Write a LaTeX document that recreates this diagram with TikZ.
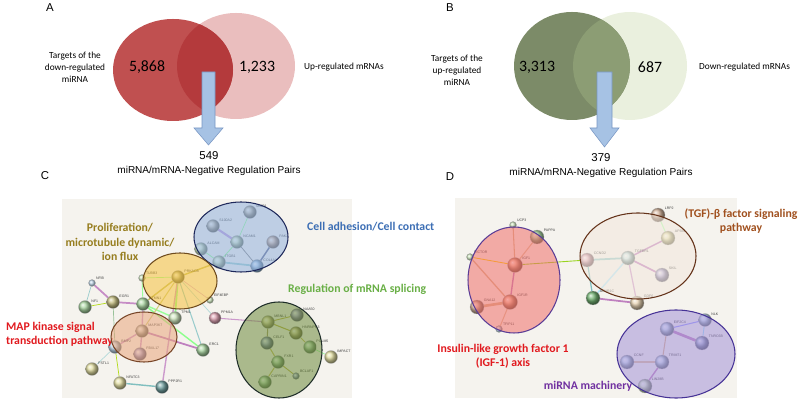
\documentclass[tikz,border=0pt]{standalone}
\usepackage{fontspec}
\setmainfont{Carlito}
\newfontfamily\arialfont{Liberation Sans}

\pgfdeclarelayer{bg}
\pgfdeclarelayer{edges}
\pgfdeclarelayer{front}
\pgfsetlayers{bg,edges,main,front}

\definecolor{vennred}{RGB}{192,80,80}
\definecolor{vennpink}{RGB}{234,190,190}
\definecolor{vennredmid}{RGB}{180,58,60}
\definecolor{venngreen}{RGB}{124,139,104}
\definecolor{vennlight}{RGB}{234,240,222}
\definecolor{venngreenmid}{RGB}{140,157,116}
\definecolor{arrowblue}{RGB}{166,194,228}
\definecolor{arrowedge}{RGB}{120,150,195}
\definecolor{panelbg}{RGB}{245,243,238}
\definecolor{olivetxt}{RGB}{150,125,30}
\definecolor{bluetxt}{RGB}{60,110,180}
\definecolor{greentxt}{RGB}{105,175,70}
\definecolor{redtxt}{RGB}{225,25,30}
\definecolor{browntxt}{RGB}{160,80,30}
\definecolor{purpletxt}{RGB}{112,48,160}
% ball colours
\definecolor{bOlive}{RGB}{184,176,100}
\definecolor{bGreen}{RGB}{150,205,140}
\definecolor{bLtGreen}{RGB}{195,225,175}
\definecolor{bBlue}{RGB}{130,180,225}
\definecolor{bLtBlue}{RGB}{175,205,230}
\definecolor{bPurple}{RGB}{150,140,205}
\definecolor{bPink}{RGB}{215,140,160}
\definecolor{bYellow}{RGB}{220,215,140}
\definecolor{bTeal}{RGB}{80,140,140}
\definecolor{bGrey}{RGB}{175,170,150}
\definecolor{bOrange}{RGB}{230,140,100}
\definecolor{bTan}{RGB}{225,200,160}
\definecolor{bCyan}{RGB}{180,225,225}
\definecolor{bDkGreen}{RGB}{80,160,80}
\definecolor{bBlueGrey}{RGB}{130,145,195}
\definecolor{bBrown}{RGB}{200,160,130}
% cluster colours
\definecolor{cBlue}{RGB}{146,177,221}
\definecolor{cBlueLine}{RGB}{30,40,90}
\definecolor{cYellow}{RGB}{246,193,60}
\definecolor{cYellowLine}{RGB}{110,75,30}
\definecolor{cPeach}{RGB}{233,166,124}
\definecolor{cPeachLine}{RGB}{120,70,40}
\definecolor{cGreen}{RGB}{109,138,60}
\definecolor{cGreenLine}{RGB}{30,45,40}
\definecolor{cPink}{RGB}{240,111,106}
\definecolor{cPinkLine}{RGB}{90,60,150}
\definecolor{cTan}{RGB}{242,231,220}
\definecolor{cTanLine}{RGB}{100,50,25}
\definecolor{cPurple}{RGB}{164,147,215}
\definecolor{cPurpleLine}{RGB}{70,50,150}

\tikzset{
  panel/.style={font=\arialfont\fontsize{6.5}{7.8}\selectfont},
  count/.style={font=\fontsize{9}{10}\selectfont},
  side/.style={font=\fontsize{5.3}{6.8}\selectfont, align=center},
  pairs/.style={font=\arialfont\fontsize{5.7}{6.8}\selectfont},
  pairnum/.style={font=\arialfont\fontsize{6.5}{7.8}\selectfont},
  group/.style={font=\bfseries\fontsize{6.7}{8.2}\selectfont, align=center},
  gball/.style={circle, inner sep=0pt, draw=black!30, line width=0.15pt, shading=ball, ball color=#1!80!white},
  genelbl/.style={font=\arialfont\fontsize{2}{2.4}\selectfont, inner sep=0.4pt, text=black!75},
  lnk/.style={draw=#1, line cap=round},
  blob/.style={draw=#1, line width=0.6pt, fill opacity=0.55}
}

\begin{document}
\begin{tikzpicture}[x=0.02cm, y=-0.02cm]
\useasboundingbox (0,0) rectangle (800,401);

% Venn of panel A
\fill [vennpink] (236,66) ellipse [x radius=59, y radius=53];
\fill [vennred] (173,70) ellipse [x radius=60, y radius=51];
\begin{scope}
\clip (173,70) ellipse [x radius=60, y radius=51];
\fill [vennredmid] (236,66) ellipse [x radius=59, y radius=53];
\end{scope}

% Venn of panel B
\fill [vennlight] (630,66) ellipse [x radius=57, y radius=54];
\fill [venngreen] (572,66) ellipse [x radius=58, y radius=54];
\begin{scope}
\clip (572,66) ellipse [x radius=58, y radius=54];
\fill [venngreenmid] (630,66) ellipse [x radius=57, y radius=54];
\end{scope}

% Block arrows
\filldraw [fill=arrowblue, draw=arrowedge, line width=0.3pt]
  (202,72) -- (215,72) -- (215,128) -- (223,128) -- (208.5,145) -- (194,128) -- (202,128) -- cycle;
\filldraw [fill=arrowblue, draw=arrowedge, line width=0.3pt]
  (597,72) -- (612,72) -- (612,128) -- (619,128) -- (604.5,147) -- (590,128) -- (597,128) -- cycle;

% Top texts
\node [panel] (labA) at (50,8) {A};
\node [count] (numA1) at (147,67) {5,868};
\node [count] (numA2) at (257,67) {1,233};
\node [side] (setA1) at (75,67) {Targets of the\\down-regulated\\miRNA};
\node [side, anchor=west] (setA2) at (298,67) {Up-regulated mRNAs};
\node [pairnum] (sumA) at (209,156) {549};
\node [pairs] (pairsA) at (209,171) {miRNA/mRNA-Negative Regulation Pairs};

\node [panel] (labB) at (450,8) {B};
\node [count] (numB1) at (537,67) {3,313};
\node [count] (numB2) at (650,67) {687};
\node [side] (setB1) at (457,70) {Targets of the\\up-regulated\\miRNA};
\node [side, anchor=west] (setB2) at (693,67) {Down-regulated mRNAs};
\node [pairnum] (sumB) at (601,158) {379};
\node [pairs] (pairsB) at (601,173) {miRNA/mRNA-Negative Regulation Pairs};

\node [panel] (labC) at (45,176) {C};
\node [panel] (labD) at (450,177) {D};

% Network backgrounds
\begin{pgfonlayer}{bg}
\fill [panelbg] (62,199) rectangle (352,398);
\fill [panelbg] (455,198) rectangle (737,398);
\end{pgfonlayer}

% Genes of panel C
\foreach \n/\x/\y/\d/\c/\t in {
  mmp/250/212/0.26/bGrey/MMP1, sgal/213/226/0.26/bGrey/S100A2,
  ncam/237/242/0.26/bLtGreen/NCAM1, pak/273/242/0.26/bBrown/PAK2,
  alcam/201/249/0.26/bLtGreen/ALCAM, itgb/219/262/0.26/bLtGreen/ITGB1,
  col/257/266/0.26/bBlue/COL4A1, prkacb/178/277/0.26/bOlive/PRKACB,
  tubb/142/278/0.14/bLtGreen/TUBB3, stmn/143/304/0.26/bGreen/STMN1,
  tpm/175/318/0.26/bLtGreen/TPM1, eif/210/300/0.14/bLtGreen/EIF4EBP,
  ppm/215/318/0.24/bPink/PPM1A, egr/113/302/0.26/bOlive/EGR1,
  nfib/92/283/0.14/bLtBlue/NFIB, nf/85/307/0.26/bGreen/NF1,
  map/142/331/0.26/bGrey/MAP3K7, bmp/115/347/0.26/bLtBlue/BMP2,
  fbxl/140/354/0.26/bPurple/FBXL17, fstl/92/369/0.26/bYellow/FSTL1,
  nfat/120/383/0.26/bYellow/NFATC3, ppp/162/387/0.26/bTeal/PPP2R1,
  erc/203/350/0.26/bGreen/ERC1, mbnl/268/322/0.26/bYellow/MBNL1,
  naa/297/315/0.26/bPurple/NAA50, hnrnp/296/333/0.26/bOlive/HNRNPH3,
  celf/267/343/0.26/bBlueGrey/CELF1, polm/310/347/0.26/bGreen/POLM5,
  impact/331/357/0.26/bYellow/IMPACT, fxr/278/362/0.26/bGreen/FXR1,
  bclaf/296/376/0.14/bBlueGrey/BCLAF1, caprin/265/382/0.26/bGreen/CAPRIN1}
\node [gball=\c, minimum size=\d cm, label={[genelbl]35:\t}] (\n) at (\x,\y) {};

% Genes of panel D
\foreach \n/\x/\y/\d/\c/\t in {
  ucp/513/225/0.14/bLtGreen/UCP3, pappa/537/237/0.28/bGreen/PAPPA,
  rictor/470/257/0.14/bLtGreen/RICTOR, igf/515/265/0.3/bOrange/IGF1,
  igfr/510/302/0.3/bOrange/IGF1R, gna/477/307/0.28/bBrown/GNA12,
  tfip/499/329/0.14/bLtBlue/TFIP11, lrp/658/215/0.28/bBrown/LRP2,
  ap/668/238/0.28/bYellow/AP3B1, tgfbr/628/258/0.28/bCyan/TGFBR1,
  ccnd/587/260/0.28/bPink/CCND2, skil/662/275/0.28/bPurple/SKIL,
  acvr/593/298/0.28/bDkGreen/ACVR1C, gdf/637/303/0.28/bTan/GDF6,
  nlk/705/320/0.26/bLtBlue/NLK, eif2/667/329/0.28/bLtBlue/EIF2C4,
  tnrc/702/343/0.28/bBlueGrey/TNRC6B, ccnf/627/362/0.28/bLtBlue/CCNF,
  trim/662/362/0.28/bLtBlue/TRIM71, lin/645/386/0.28/bLtGreen/LIN28B}
\node [gball=\c, minimum size=\d cm, label={[genelbl]35:\t}] (\n) at (\x,\y) {};

% Interactions
\begin{pgfonlayer}{edges}
\foreach \a/\b/\c/\w in {
  nfib/egr/violet!45/1.0, nfib/nf/teal!40/0.4, nf/egr/yellow!70!green/0.4,
  egr/stmn/violet!45/1.0, egr/bmp/green!40!black!40/0.4,
  stmn/tubb/green!40/0.5, stmn/prkacb/olive!50/0.8, stmn/tpm/green!40/0.8,
  stmn/map/violet!40/0.8, stmn/erc/green!45/0.8,
  prkacb/tubb/green!40/0.4, prkacb/itgb/olive!50/0.8, prkacb/tpm/green!45/1.0,
  prkacb/eif/violet!30/0.4, prkacb/ppm/teal!30/0.4, prkacb/ppp/violet!40/0.8,
  prkacb/erc/teal!40/0.6, prkacb/map/olive!40/0.6,
  map/bmp/violet!40/0.8, map/fbxl/violet!40/0.8, map/erc/violet!50/1.0,
  bmp/fstl/teal!30/0.4, bmp/nfat/yellow!70!green/0.4, nfat/ppp/teal!50/0.8,
  ppm/mbnl/violet!40/0.6,
  itgb/alcam/green!40/0.5, itgb/ncam/green!40/0.5, itgb/col/teal!40/1.0,
  ncam/col/black!50/0.4, ncam/sgal/blue!30!violet!40/1.2, ncam/mmp/green!40/0.4,
  pak/col/cBlueLine!70/0.8,
  mbnl/naa/olive!60/0.5, mbnl/hnrnp/olive!60/0.6, mbnl/celf/olive!60!black!60/0.6,
  hnrnp/polm/olive!50/0.5, polm/impact/green!40/0.4, celf/fxr/olive!50/0.6,
  fxr/bclaf/olive!60/0.5, fxr/caprin/olive!50/0.6,
  ucp/igf/brown!60/0.6, pappa/igf/brown!50/0.6, rictor/igf/yellow!70!orange/0.5,
  rictor/igfr/brown!60/0.7, igf/igfr/violet!50/0.8, igfr/gna/brown!60/1.5,
  igfr/tfip/brown!50/0.6, igf/ccnd/yellow!60!green/0.5,
  lrp/ap/green!30/0.6, ap/tgfbr/violet!50/0.8, ccnd/tgfbr/teal!40/1.0,
  tgfbr/skil/violet!50/1.0, tgfbr/acvr/cyan!30/0.8, tgfbr/gdf/violet!40/0.7,
  ccnd/acvr/teal!50/0.7, acvr/gdf/violet!50/1.0,
  eif2/nlk/blue!40/0.6, eif2/tnrc/violet!50/1.5, nlk/tnrc/cyan!40/0.5,
  eif2/trim/brown!60/0.6, trim/ccnf/brown!50/0.6, trim/lin/violet!50/0.8}
\draw [lnk=\c, line width=\w pt] (\a) -- (\b);
\end{pgfonlayer}

% Clusters
\begin{pgfonlayer}{front}
\filldraw [blob=cBlueLine, fill=cBlue] (241,237) ellipse [x radius=47, y radius=35];
\filldraw [blob=cYellowLine, fill=cYellow] (180,281) ellipse [x radius=37, y radius=28];
\filldraw [blob=cPeachLine, fill=cPeach] (144,337) ellipse [x radius=33, y radius=25];
\filldraw [blob=cGreenLine, fill=cGreen] (279,350) ellipse [x radius=43, y radius=48];
\filldraw [blob=cPinkLine, fill=cPink] (514,280) ellipse [x radius=46, y radius=53];
\filldraw [blob=cTanLine, fill=cTan] (638,256) ellipse [x radius=58, y radius=43];
\filldraw [blob=cPurpleLine, fill=cPurple] (676,354) ellipse [x radius=59, y radius=44];
\end{pgfonlayer}

% Cluster names
\node [group, text=olivetxt] (grpProl) at (120,242) {Proliferation/\\microtubule dynamic/\\ion flux};
\node [group, text=bluetxt, anchor=west] (grpAdh) at (301,227) {Cell adhesion/Cell contact};
\node [group, text=greentxt, anchor=west] (grpSpl) at (282,289) {Regulation of mRNA splicing};
\node [group, text=redtxt, align=left, anchor=west] (grpMap) at (0,334) {MAP kinase signal\\transduction pathway};
\node [group, text=browntxt] (grpTgf) at (741,221) {(TGF)-β factor signaling\\pathway};
\node [group, text=redtxt] (grpIgf) at (503,356) {Insulin-like growth factor 1\\(IGF-1) axis};
\node [group, text=purpletxt] (grpMir) at (588,386) {miRNA machinery};

\end{tikzpicture}
\end{document}
